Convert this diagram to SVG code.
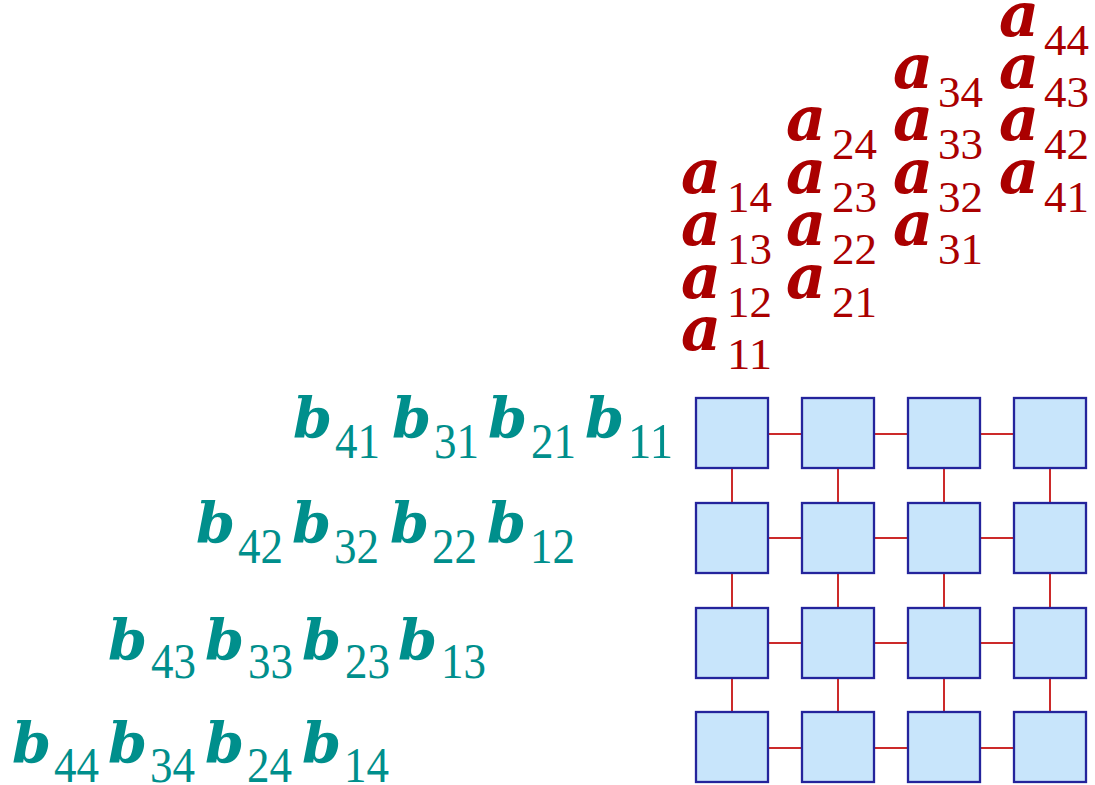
<svg xmlns="http://www.w3.org/2000/svg" width="1095" height="785" viewBox="0 0 1095 785">
<style>
.pe{fill:#c8e5fb;stroke:#24249c;stroke-width:2.3}
.ln{stroke:#cc2a2a;stroke-width:2;fill:none}
.a{font-family:"DejaVu Serif",serif;font-weight:bold;font-style:italic;font-size:62px;fill:#aa0000}
.as{font-family:"Liberation Serif",serif;font-weight:normal;font-style:normal;font-size:45px;fill:#aa0000}
.b{font-family:"DejaVu Serif",serif;font-weight:bold;font-style:italic;font-size:56px;fill:#008f8c}
.bs{font-family:"Liberation Serif",serif;font-weight:normal;font-style:normal;font-size:50px;fill:#008f8c}
</style>
<rect width="1095" height="785" fill="#ffffff"/>
<g id="connectors">
<line class="ln" x1="768" y1="434" x2="802" y2="434"/><line class="ln" x1="874" y1="434" x2="908" y2="434"/><line class="ln" x1="980" y1="434" x2="1014" y2="434"/>
<line class="ln" x1="768" y1="538" x2="802" y2="538"/><line class="ln" x1="874" y1="538" x2="908" y2="538"/><line class="ln" x1="980" y1="538" x2="1014" y2="538"/>
<line class="ln" x1="768" y1="643" x2="802" y2="643"/><line class="ln" x1="874" y1="643" x2="908" y2="643"/><line class="ln" x1="980" y1="643" x2="1014" y2="643"/>
<line class="ln" x1="768" y1="748" x2="802" y2="748"/><line class="ln" x1="874" y1="748" x2="908" y2="748"/><line class="ln" x1="980" y1="748" x2="1014" y2="748"/>
<line class="ln" x1="732" y1="468" x2="732" y2="503"/><line class="ln" x1="838" y1="468" x2="838" y2="503"/><line class="ln" x1="944" y1="468" x2="944" y2="503"/><line class="ln" x1="1050" y1="468" x2="1050" y2="503"/>
<line class="ln" x1="732" y1="573" x2="732" y2="608"/><line class="ln" x1="838" y1="573" x2="838" y2="608"/><line class="ln" x1="944" y1="573" x2="944" y2="608"/><line class="ln" x1="1050" y1="573" x2="1050" y2="608"/>
<line class="ln" x1="732" y1="678" x2="732" y2="712"/><line class="ln" x1="838" y1="678" x2="838" y2="712"/><line class="ln" x1="944" y1="678" x2="944" y2="712"/><line class="ln" x1="1050" y1="678" x2="1050" y2="712"/>
</g>
<g id="pe-1-1"><rect class="pe" x="696" y="398" width="72" height="70"/></g>
<g id="pe-1-2"><rect class="pe" x="802" y="398" width="72" height="70"/></g>
<g id="pe-1-3"><rect class="pe" x="908" y="398" width="72" height="70"/></g>
<g id="pe-1-4"><rect class="pe" x="1014" y="398" width="72" height="70"/></g>
<g id="pe-2-1"><rect class="pe" x="696" y="503" width="72" height="70"/></g>
<g id="pe-2-2"><rect class="pe" x="802" y="503" width="72" height="70"/></g>
<g id="pe-2-3"><rect class="pe" x="908" y="503" width="72" height="70"/></g>
<g id="pe-2-4"><rect class="pe" x="1014" y="503" width="72" height="70"/></g>
<g id="pe-3-1"><rect class="pe" x="696" y="608" width="72" height="70"/></g>
<g id="pe-3-2"><rect class="pe" x="802" y="608" width="72" height="70"/></g>
<g id="pe-3-3"><rect class="pe" x="908" y="608" width="72" height="70"/></g>
<g id="pe-3-4"><rect class="pe" x="1014" y="608" width="72" height="70"/></g>
<g id="pe-4-1"><rect class="pe" x="696" y="712" width="72" height="70"/></g>
<g id="pe-4-2"><rect class="pe" x="802" y="712" width="72" height="70"/></g>
<g id="pe-4-3"><rect class="pe" x="908" y="712" width="72" height="70"/></g>
<g id="pe-4-4"><rect class="pe" x="1014" y="712" width="72" height="70"/></g>
<g id="a-labels">
<text class="a" x="681" y="350">a<tspan class="as" x="727" y="369" textLength="45" lengthAdjust="spacingAndGlyphs">11</tspan></text>
<text class="a" x="681" y="297.5">a<tspan class="as" x="727" y="316.5" textLength="45" lengthAdjust="spacingAndGlyphs">12</tspan></text>
<text class="a" x="681" y="245">a<tspan class="as" x="727" y="264" textLength="45" lengthAdjust="spacingAndGlyphs">13</tspan></text>
<text class="a" x="681" y="192.5">a<tspan class="as" x="727" y="211.5" textLength="45" lengthAdjust="spacingAndGlyphs">14</tspan></text>
<text class="a" x="786" y="297.5">a<tspan class="as" x="832" y="316.5" textLength="45" lengthAdjust="spacingAndGlyphs">21</tspan></text>
<text class="a" x="786" y="245">a<tspan class="as" x="832" y="264" textLength="45" lengthAdjust="spacingAndGlyphs">22</tspan></text>
<text class="a" x="786" y="192.5">a<tspan class="as" x="832" y="211.5" textLength="45" lengthAdjust="spacingAndGlyphs">23</tspan></text>
<text class="a" x="786" y="140">a<tspan class="as" x="832" y="159" textLength="45" lengthAdjust="spacingAndGlyphs">24</tspan></text>
<text class="a" x="893" y="245">a<tspan class="as" x="938" y="264" textLength="45" lengthAdjust="spacingAndGlyphs">31</tspan></text>
<text class="a" x="893" y="192.5">a<tspan class="as" x="938" y="211.5" textLength="45" lengthAdjust="spacingAndGlyphs">32</tspan></text>
<text class="a" x="893" y="140">a<tspan class="as" x="938" y="159" textLength="45" lengthAdjust="spacingAndGlyphs">33</tspan></text>
<text class="a" x="893" y="87.5">a<tspan class="as" x="938" y="106.5" textLength="45" lengthAdjust="spacingAndGlyphs">34</tspan></text>
<text class="a" x="999" y="192.5">a<tspan class="as" x="1044" y="211.5" textLength="45" lengthAdjust="spacingAndGlyphs">41</tspan></text>
<text class="a" x="999" y="140">a<tspan class="as" x="1044" y="159" textLength="45" lengthAdjust="spacingAndGlyphs">42</tspan></text>
<text class="a" x="999" y="87.5">a<tspan class="as" x="1044" y="106.5" textLength="45" lengthAdjust="spacingAndGlyphs">43</tspan></text>
<text class="a" x="999" y="36">a<tspan class="as" x="1044" y="55" textLength="45" lengthAdjust="spacingAndGlyphs">44</tspan></text>
</g>
<g id="b-labels">
<text class="b" x="293" y="438">b<tspan class="bs" x="335" y="458" textLength="45" lengthAdjust="spacingAndGlyphs">41</tspan></text>
<text class="b" x="392" y="438">b<tspan class="bs" x="434" y="458" textLength="45" lengthAdjust="spacingAndGlyphs">31</tspan></text>
<text class="b" x="488" y="438">b<tspan class="bs" x="531" y="458" textLength="45" lengthAdjust="spacingAndGlyphs">21</tspan></text>
<text class="b" x="585" y="438">b<tspan class="bs" x="628" y="458" textLength="45" lengthAdjust="spacingAndGlyphs">11</tspan></text>
<text class="b" x="196" y="543">b<tspan class="bs" x="238" y="563" textLength="45" lengthAdjust="spacingAndGlyphs">42</tspan></text>
<text class="b" x="292" y="543">b<tspan class="bs" x="334" y="563" textLength="45" lengthAdjust="spacingAndGlyphs">32</tspan></text>
<text class="b" x="390" y="543">b<tspan class="bs" x="432" y="563" textLength="45" lengthAdjust="spacingAndGlyphs">22</tspan></text>
<text class="b" x="487" y="543">b<tspan class="bs" x="530" y="563" textLength="45" lengthAdjust="spacingAndGlyphs">12</tspan></text>
<text class="b" x="108" y="660">b<tspan class="bs" x="151" y="678" textLength="45" lengthAdjust="spacingAndGlyphs">43</tspan></text>
<text class="b" x="205" y="660">b<tspan class="bs" x="248" y="678" textLength="45" lengthAdjust="spacingAndGlyphs">33</tspan></text>
<text class="b" x="302" y="660">b<tspan class="bs" x="345" y="678" textLength="45" lengthAdjust="spacingAndGlyphs">23</tspan></text>
<text class="b" x="398" y="660">b<tspan class="bs" x="441" y="678" textLength="45" lengthAdjust="spacingAndGlyphs">13</tspan></text>
<text class="b" x="12" y="763">b<tspan class="bs" x="54" y="782" textLength="45" lengthAdjust="spacingAndGlyphs">44</tspan></text>
<text class="b" x="108" y="763">b<tspan class="bs" x="150" y="782" textLength="45" lengthAdjust="spacingAndGlyphs">34</tspan></text>
<text class="b" x="205" y="763">b<tspan class="bs" x="247" y="782" textLength="45" lengthAdjust="spacingAndGlyphs">24</tspan></text>
<text class="b" x="302" y="763">b<tspan class="bs" x="344" y="782" textLength="45" lengthAdjust="spacingAndGlyphs">14</tspan></text>
</g>
</svg>
